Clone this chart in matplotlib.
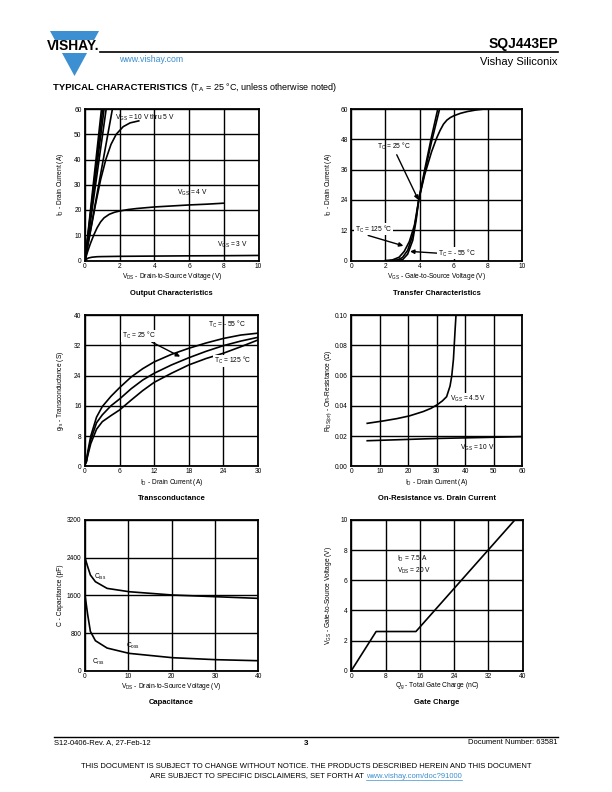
import matplotlib
matplotlib.use("Agg")
import matplotlib.pyplot as plt
from matplotlib.patches import Polygon, Rectangle

plt.rcParams['font.family'] = ['Liberation Sans', 'DejaVu Sans']
plt.rcParams['mathtext.fontset'] = 'custom'
plt.rcParams['mathtext.rm'] = 'Liberation Sans'
plt.rcParams['mathtext.it'] = 'Liberation Sans'
plt.rcParams['mathtext.bf'] = 'Liberation Sans:bold'

# ---------------- data ----------------
# Output characteristics (VDS V, ID A)
out_steep_vds = [[0, 0.95], [0, 1.02], [0, 1.10], [0, 1.22], [0, 1.58]]
out_steep_id = [[0, 60], [0, 60], [0, 60], [0, 60], [0, 60]]
out_5v_vds = [0, 0.3, 0.6, 0.9, 1.2, 1.5, 1.8, 2.2, 2.6, 3.1]
out_5v_id = [0, 11, 22, 32, 40, 46, 50, 53, 54.5, 55.3]
out_4v_vds = [0, 0.15, 0.3, 0.5, 0.7, 0.9, 1.1, 1.4, 1.7, 2.0, 2.5, 3, 4, 5, 6, 7, 8]
out_4v_id = [0, 3.5, 6.5, 10, 13, 15.3, 16.9, 18.3, 19.1, 19.6, 20.2, 20.6, 21.2, 21.6, 22, 22.3, 22.7]
out_3v_vds = [0, 0.1, 0.2, 0.4, 0.7, 1, 2, 4, 6, 8, 10]
out_3v_id = [0, 0.6, 1.0, 1.3, 1.5, 1.55, 1.65, 1.75, 1.85, 1.9, 2.0]

# Transfer characteristics (VGS V, ID A)
tr_125_vgs = [2.0, 2.4, 2.8, 3.1, 3.4, 3.7, 3.95, 4.3, 4.7, 5.0, 5.2, 5.4, 5.6, 5.8, 6.0, 6.4, 6.8, 7.3, 7.8]
tr_125_id = [0, 0.2, 1.3, 3.6, 7.5, 14, 24, 34, 43, 48.5, 51.5, 54, 55.6, 56.6, 57.3, 58.3, 59, 59.6, 60]
tr_25_vgs = [2.3, 2.7, 3.0, 3.3, 3.6, 3.8, 3.95, 4.3, 4.7, 5.1, 5.35]
tr_25_id = [0, 0.2, 1.2, 4, 10, 17, 24, 35, 47, 58, 65]
tr_m55_vgs = [2.6, 3.0, 3.3, 3.6, 3.8, 3.95, 4.3, 4.7, 5.0, 5.2]
tr_m55_id = [0, 0.3, 2.5, 8, 16, 24, 36, 49, 58, 64]

# Transconductance (ID A, gfs S)
gm_id = [0.2, 0.5, 1, 2, 3, 4.5, 6, 8, 10, 12, 15, 18, 21, 24, 27, 30]
gm_m55 = [1, 4, 8, 13, 15.8, 18.5, 20.8, 23.6, 25.8, 27.6, 29.6, 31.2, 32.6, 33.8, 34.7, 35.2]
gm_25 = [1, 3.5, 7, 11.5, 13.6, 16, 17.8, 20.5, 22.8, 24.6, 26.8, 28.7, 30.4, 31.9, 33.1, 34.1]
gm_125 = [1, 3, 6, 9.8, 11.8, 13.4, 14.9, 17.5, 20, 22.2, 24.6, 26.8, 28.5, 29.9, 31.6, 33.4]

# On-resistance (ID A, RDS ohm)
rds45_id = [5.6, 11.3, 16, 20.4, 25.3, 28, 30.2, 32, 33.5, 34.7, 35.3, 35.9, 36.5, 36.8]
rds45 = [0.0284, 0.030, 0.0315, 0.0333, 0.0362, 0.0383, 0.0407, 0.0432, 0.046, 0.053, 0.0596, 0.0707, 0.0907, 0.100]
rds10_id = [5.6, 30.2, 60]
rds10 = [0.0169, 0.0184, 0.0196]

# Capacitance (VDS V, C pF)
cap_vds = [0, 0.62, 1.24, 2.4, 5.1, 10.2, 20.2, 30.2, 40]
cap_ciss = [2400, 2209, 2032, 1890, 1748, 1677, 1607, 1571, 1536]
cap_coss = [1607, 1189, 835, 637, 481, 368, 276, 234, 212]

# Gate charge (Qg nC, VGS V)
gc_qg = [0, 5.8, 15.1, 38.2]
gc_vgs = [0, 2.6, 2.6, 10]

W, H = 612, 792
fig = plt.figure(figsize=(6.12, 7.92), dpi=100)

TICK_FS = 4.8
LAB_FS = 4.8
TITLE_FS = 5.5
LW = 1.2


def px_axes(x0, y0, x1, y1):
    return fig.add_axes([x0 / W, 1 - y1 / H, (x1 - x0) / W, (y1 - y0) / H])


def style(ax, xlim, ylim, xticks, yticks, xticklabels=None, yticklabels=None):
    ax.set_xlim(*xlim)
    ax.set_ylim(*ylim)
    ax.set_xticks(xticks)
    ax.set_yticks(yticks)
    if xticklabels is not None:
        ax.set_xticklabels(xticklabels)
    if yticklabels is not None:
        ax.set_yticklabels(yticklabels)
    ax.grid(True, color='black', linewidth=1.0)
    ax.set_axisbelow(True)
    for s in ax.spines.values():
        s.set_linewidth(1.3)
    ax.tick_params(length=0, labelsize=TICK_FS, pad=2.5)
    ax.tick_params(axis='x', pad=1.5)


def xlabel_title(ax, xlab, title, ylab_px, title_px):
    bb = ax.get_position()
    cx = (bb.x0 + bb.x1) / 2
    fig.text(cx, 1 - ylab_px / H, xlab, ha='center', va='center', fontsize=LAB_FS)
    fig.text(cx, 1 - title_px / H, title, ha='center', va='center', fontsize=TITLE_FS, fontweight='bold')


def ylabel(ax, text, xpx):
    bb = ax.get_position()
    fig.text(xpx / W, (bb.y0 + bb.y1) / 2, text, ha='center', va='center', rotation=90, fontsize=LAB_FS)


# ---- Output characteristics ----
ax1 = px_axes(85, 109, 258.5, 260.5)
style(ax1, (0, 10), (0, 60), range(0, 11, 2), range(0, 61, 10))
for xs, ys in zip(out_steep_vds, out_steep_id):
    ax1.plot(xs, ys, color='black', lw=LW)
ax1.plot(out_5v_vds, out_5v_id, color='black', lw=LW)
ax1.plot(out_4v_vds, out_4v_id, color='black', lw=LW)
ax1.plot(out_3v_vds, out_3v_id, color='black', lw=LW)
ax1.text(1.75, 56.5, r'V$_{\mathregular{GS}}$ = 10 V thru 5 V', fontsize=LAB_FS, va='center', ha='left')
ax1.text(5.3, 26.7, r'V$_{\mathregular{GS}}$ = 4 V', fontsize=LAB_FS, va='center', ha='left')
ax1.text(7.6, 6.0, r'V$_{\mathregular{GS}}$ = 3 V', fontsize=LAB_FS, va='center', ha='left')
ylabel(ax1, r'I$_{\mathregular{D}}$ - Drain Current (A)', 60)
xlabel_title(ax1, r'V$_{\mathregular{DS}}$ - Drain-to-Source Voltage (V)', 'Output Characteristics', 276, 293)

# ---- Transfer characteristics ----
ax2 = px_axes(351.3, 109, 522, 260.5)
style(ax2, (0, 10), (0, 60), range(0, 11, 2), range(0, 61, 12))
ax2.plot(tr_125_vgs, tr_125_id, color='black', lw=LW)
ax2.plot(tr_25_vgs, tr_25_id, color='black', lw=LW)
ax2.plot(tr_m55_vgs, tr_m55_id, color='black', lw=LW)
ap = dict(arrowstyle='-|>', color='black', lw=1.0, mutation_scale=6, shrinkA=0, shrinkB=0)
ax2.annotate(r'T$_{\mathregular{C}}$ = 25 °C', xy=(3.93, 24), xytext=(1.5, 45.2), fontsize=LAB_FS,
             va='center', ha='left', arrowprops=dict(ap, relpos=(0.55, 0)))
ax2.annotate(r'T$_{\mathregular{C}}$ = 125 °C', xy=(3.05, 5.8), xytext=(0.2, 12.4), fontsize=LAB_FS,
             va='center', ha='left', bbox=dict(boxstyle='square,pad=0.1', fc='white', ec='none'),
             arrowprops=dict(ap, relpos=(0.3, 0)))
ax2.annotate(r'T$_{\mathregular{C}}$ = - 55 °C', xy=(3.44, 3.6), xytext=(5.05, 2.9), fontsize=LAB_FS,
             va='center', ha='left', bbox=dict(boxstyle='square,pad=0.1', fc='white', ec='none'),
             arrowprops=dict(ap, relpos=(0, 0.5)))
ylabel(ax2, r'I$_{\mathregular{D}}$ - Drain Current (A)', 329)
xlabel_title(ax2, r'V$_{\mathregular{GS}}$ - Gate-to-Source Voltage (V)', 'Transfer Characteristics', 276, 293)

# ---- Transconductance ----
ax3 = px_axes(85, 315, 258, 466.3)
style(ax3, (0, 30), (0, 40), range(0, 31, 6), range(0, 41, 8))
ax3.plot(gm_id, gm_m55, color='black', lw=LW)
ax3.plot(gm_id, gm_25, color='black', lw=LW)
ax3.plot(gm_id, gm_125, color='black', lw=LW)
ax3.text(21.4, 37.6, r'T$_{\mathregular{C}}$ = - 55 °C', fontsize=LAB_FS, va='center', ha='left')
ax3.annotate(r'T$_{\mathregular{C}}$ = 25 °C', xy=(16.5, 29.0), xytext=(6.4, 34.5), fontsize=LAB_FS,
             va='center', ha='left', bbox=dict(boxstyle='square,pad=0.1', fc='white', ec='none'),
             arrowprops=dict(ap, relpos=(0.85, 0)))
ax3.text(22.3, 27.9, r'T$_{\mathregular{C}}$ = 125 °C', fontsize=LAB_FS, va='center', ha='left',
         bbox=dict(boxstyle='square,pad=0.1', fc='white', ec='none'))
ylabel(ax3, r'g$_{\mathregular{fs}}$ - Transconductance (S)', 60)
xlabel_title(ax3, r'I$_{\mathregular{D}}$ - Drain Current (A)', 'Transconductance', 483, 498)

# ---- On-resistance ----
ax4 = px_axes(351.3, 315, 522, 466.3)
style(ax4, (0, 60), (0, 0.10), range(0, 61, 10), [0, 0.02, 0.04, 0.06, 0.08, 0.10],
      yticklabels=['0.00', '0.02', '0.04', '0.06', '0.08', '0.10'])
ax4.plot(rds45_id, rds45, color='black', lw=LW)
ax4.plot(rds10_id, rds10, color='black', lw=LW)
ax4.text(34.8, 0.0444, r'V$_{\mathregular{GS}}$ = 4.5 V', fontsize=LAB_FS, va='center', ha='left',
         bbox=dict(boxstyle='square,pad=0.1', fc='white', ec='none'))
ax4.text(38.2, 0.0124, r'V$_{\mathregular{GS}}$ = 10 V', fontsize=LAB_FS, va='center', ha='left')
ylabel(ax4, r'R$_{\mathregular{DS(on)}}$ - On-Resistance ($\Omega$)', 329)
xlabel_title(ax4, r'I$_{\mathregular{D}}$ - Drain Current (A)', 'On-Resistance vs. Drain Current', 483, 498)

# ---- Capacitance ----
ax5 = px_axes(85, 520, 258.3, 670.7)
style(ax5, (0, 40), (0, 3200), range(0, 41, 10), range(0, 3201, 800))
ax5.plot(cap_vds, cap_ciss, color='black', lw=LW)
ax5.plot(cap_vds, cap_coss, color='black', lw=LW)
ax5.text(2.0, 1996, r'C$_{\mathregular{iss}}$', fontsize=LAB_FS, va='center', ha='left')
ax5.text(9.4, 531, r'C$_{\mathregular{oss}}$', fontsize=LAB_FS, va='center', ha='left')
ax5.text(1.6, 191, r'C$_{\mathregular{rss}}$', fontsize=LAB_FS, va='center', ha='left')
ylabel(ax5, 'C - Capacitance (pF)', 60)
xlabel_title(ax5, r'V$_{\mathregular{DS}}$ - Drain-to-Source Voltage (V)', 'Capacitance', 686, 702)

# ---- Gate charge ----
ax6 = px_axes(351.3, 520, 522.5, 670.7)
style(ax6, (0, 40), (0, 10), range(0, 41, 8), range(0, 11, 2))
ax6.plot(gc_qg, gc_vgs, color='black', lw=LW)
ax6.text(10.6, 7.4, r'I$_{\mathregular{D}}$ = 7.5 A', fontsize=LAB_FS, va='center', ha='left')
ax6.text(10.6, 6.6, r'V$_{\mathregular{DS}}$ = 20 V', fontsize=LAB_FS, va='center', ha='left')
ylabel(ax6, r'V$_{\mathregular{GS}}$ - Gate-to-Source Voltage (V)', 329)
xlabel_title(ax6, r'Q$_{\mathregular{g}}$ - Total Gate Charge (nC)', 'Gate Charge', 686, 702)

# ---------------- page decorations ----------------
ov = fig.add_axes([0, 0, 1, 1], zorder=-1)
ov.set_xlim(0, W)
ov.set_ylim(H, 0)
ov.axis('off')

blue = '#3c8fd0'
ov.add_patch(Polygon([[50, 31], [99, 31], [74.5, 76]], closed=True, fc=blue, ec='none'))
ov.add_patch(Rectangle((44, 40), 62, 13, fc='white', ec='none'))
ov.text(73, 46.5, 'VISHAY.', fontsize=10, fontweight='bold', ha='center', va='center')
ov.plot([100, 558], [52, 52], color='black', lw=1.2)
ov.text(558, 48, 'SQJ443EP', fontsize=10, fontweight='bold', ha='right', va='baseline')
ov.text(119, 59, 'www.vishay.com', fontsize=6.3, color=blue, ha='left', va='center')
ov.text(558, 62, 'Vishay Siliconix', fontsize=8, ha='right', va='center')

t1 = ov.text(53, 88, 'TYPICAL CHARACTERISTICS', fontsize=6.8, fontweight='bold', ha='left', va='center')
fig.canvas.draw()
r = fig.canvas.get_renderer()
bb = t1.get_window_extent(r)
xnext = bb.x1 + 3
ov.text(xnext, 88, r'(T$_{\mathregular{A}}$ = 25 °C, unless otherwise noted)', fontsize=6.5, ha='left', va='center')

ov.plot([54, 558], [737, 737], color='black', lw=1.0)
ov.text(54, 743, 'S12-0406-Rev. A, 27-Feb-12', fontsize=5.5, ha='left', va='center')
ov.text(306, 743.5, '3', fontsize=5.8, fontweight='bold', ha='center', va='center')
ov.text(558, 743, 'Document Number: 63581', fontsize=5.5, ha='right', va='center')
ov.text(306, 767, 'THIS DOCUMENT IS SUBJECT TO CHANGE WITHOUT NOTICE. THE PRODUCTS DESCRIBED HEREIN AND THIS DOCUMENT',
        fontsize=5.5, ha='center', va='center')
t2 = ov.text(0, 776, 'ARE SUBJECT TO SPECIFIC DISCLAIMERS, SET FORTH AT ', fontsize=5.5, ha='left', va='center')
t3 = ov.text(0, 776, 'www.vishay.com/doc?91000', fontsize=5.5, ha='left', va='center', color=blue)
fig.canvas.draw()
w2 = t2.get_window_extent(r).width
w3 = t3.get_window_extent(r).width
x0 = 306 - (w2 + w3) / 2
t2.set_x(x0)
t3.set_x(x0 + w2)
ov.plot([x0 + w2, x0 + w2 + w3], [780, 780], color=blue, lw=0.5)

fig.savefig('out.png', dpi=100)
